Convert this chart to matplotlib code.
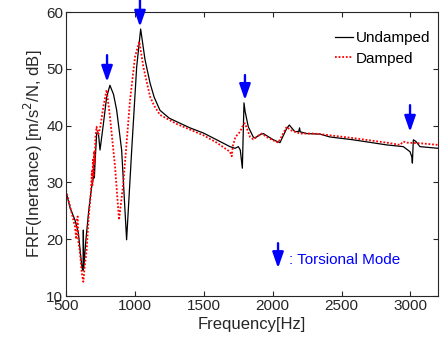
import matplotlib
matplotlib.use("Agg")
import matplotlib.pyplot as plt

plt.rcParams['font.family'] = ['Liberation Sans', 'DejaVu Sans']

# Undamped FRF
freq_u = [500, 530, 565, 590, 607, 617, 624, 626, 629, 645, 665, 685, 700, 703, 706, 712,
          723, 735, 740, 747, 770, 795, 819, 845, 868, 904, 940, 977, 1013, 1042, 1073,
          1110, 1140, 1182, 1250, 1303, 1400, 1497, 1594, 1690, 1727, 1751, 1765, 1780,
          1792, 1800, 1823, 1859, 1872, 1900, 1932, 2005, 2053, 2102, 2121, 2162, 2190,
          2195, 2200, 2247, 2344, 2416, 2585, 2828, 2948, 2997, 3010, 3014, 3021, 3040,
          3069, 3202]
frf_u = [28.4, 25.5, 23.4, 21.1, 17.0, 14.9, 14.5, 21.6, 15.0, 20.0, 25.0, 29.0, 31.0, 33.0,
         30.8, 34.0, 38.7, 38.7, 37.5, 35.7, 40.0, 45.0, 47.1, 45.5, 42.7, 35.7, 19.9, 35.7,
         50.3, 57.0, 51.7, 47.5, 45.0, 42.7, 41.3, 40.7, 39.6, 38.7, 37.5, 36.3, 36.0, 36.3,
         35.7, 32.5, 44.0, 42.5, 39.8, 38.0, 37.8, 38.3, 38.6, 37.5, 37.0, 39.5, 40.1, 38.9,
         39.0, 39.6, 38.9, 38.6, 38.5, 38.0, 37.5, 36.6, 36.3, 35.4, 34.5, 33.4, 37.5, 37.2,
         36.3, 36.0]

# Damped FRF
freq_d = [500, 530, 565, 575, 580, 585, 590, 600, 615, 626, 635, 650, 665, 680, 688, 692,
          696, 700, 704, 708, 714, 722, 735, 747, 771, 795, 819, 856, 885, 916, 965, 1001,
          1032, 1061, 1110, 1140, 1182, 1303, 1400, 1497, 1594, 1690, 1703, 1712, 1730,
          1763, 1790, 1799, 1836, 1859, 1920, 1970, 2041, 2102, 2130, 2200, 2295, 2344,
          2585, 2828, 2924, 2948, 2975, 3069, 3202]
frf_d = [28.6, 25.8, 22.2, 20.0, 23.5, 24.0, 19.5, 18.0, 14.0, 12.5, 15.0, 18.1, 24.0, 28.0,
         32.0, 29.5, 34.0, 31.0, 35.5, 33.5, 38.0, 39.8, 38.5, 39.5, 43.3, 46.3, 41.6, 32.8,
         23.4, 29.8, 44.5, 52.1, 54.8, 50.4, 45.1, 43.5, 41.9, 40.3, 39.3, 38.3, 37.0, 35.4,
         34.6, 36.5, 38.0, 38.9, 40.3, 40.4, 38.0, 37.6, 38.6, 37.8, 37.0, 39.8, 39.2, 38.6,
         38.6, 38.5, 37.8, 37.0, 36.6, 37.2, 37.0, 36.9, 36.6]

# Torsional mode markers (frequency, arrow tail, arrow tip)
mode_freq = [798, 1037, 1799, 2997]
mode_tail = [52.4, 62.5, 48.9, 43.6]
mode_tip = [47.7, 57.4, 44.5, 38.9]

fig = plt.figure(figsize=(4.44, 3.44), dpi=100)
ax = fig.add_axes([0.1486, 0.1395, 0.8379, 0.8256])

ax.plot(freq_u, frf_u, color='black', lw=0.9, label='Undamped')
ax.plot(freq_d, frf_d, color='red', lw=1.3, ls=(0, (1, 1)), label='Damped')

arrow_kw = dict(arrowstyle='-|>,head_length=0.8,head_width=0.28', color='blue', lw=1.7,
                shrinkA=0, shrinkB=0, mutation_scale=12)
for f, t0, t1 in zip(mode_freq, mode_tail, mode_tip):
    ax.annotate('', xy=(f, t1), xytext=(f, t0), arrowprops=arrow_kw, annotation_clip=False)

ax.annotate('', xy=(2039, 14.9), xytext=(2039, 19.3), arrowprops=arrow_kw)
ax.text(2118, 16.4, ': Torsional Mode', color='blue', fontsize=11, va='center', ha='left')

ax.set_xlim(500, 3200)
ax.set_ylim(10, 60)
ax.set_xticks([500, 1000, 1500, 2000, 2500, 3000])
ax.set_yticks([10, 20, 30, 40, 50, 60])
ax.tick_params(direction='in', top=True, right=True, labelsize=11, colors='#262626',
               length=3.5, width=0.8, pad=2)
for s in ax.spines.values():
    s.set_color('#262626')
    s.set_linewidth(0.8)
ax.set_xlabel('Frequency[Hz]', fontsize=12, color='#262626', labelpad=3)
ax.set_ylabel('FRF(Inertance) [m/s$^2$/N, dB]', fontsize=12, color='#262626', labelpad=1)

leg = ax.legend(loc='upper right', frameon=False, fontsize=11, handlelength=1.2,
                handletextpad=0.15, labelspacing=0.45, borderaxespad=0.0,
                bbox_to_anchor=(0.995, 0.955))

fig.savefig('out.png', dpi=100)
